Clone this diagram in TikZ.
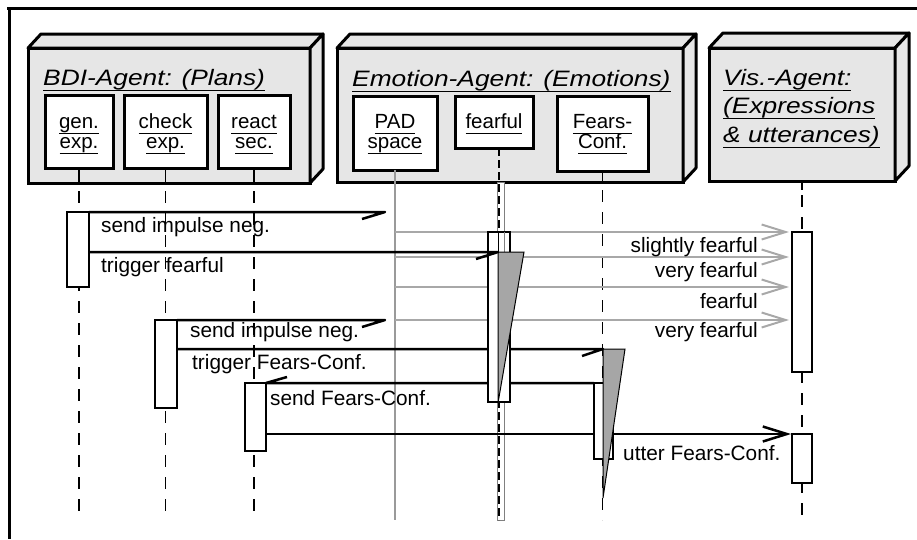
\documentclass[tikz,border=0pt]{standalone}
\usepackage{fontspec}
\setmainfont{Liberation Sans}
\newfontfamily\headfont[FakeStretch=1.18]{Liberation Sans}
\usetikzlibrary{arrows.meta,calc}
\definecolor{agentgrey}{HTML}{E6E6E6}
\definecolor{msggrey}{HTML}{A8A8A8}
\definecolor{trigrey}{HTML}{A6A6A6}
\definecolor{lifegrey}{HTML}{9A9A9A}
\newcommand\uln[1]{\setbox0=\hbox{#1}\rlap{\rule[-5.8pt]{\wd0}{1.3pt}}\box0}
\begin{document}
\begin{tikzpicture}[x=1pt,y=-1pt,
  agentbox/.style={draw, line width=3pt, fill=agentgrey, rectangle, inner sep=0pt, outer sep=0pt},
  agentface/.style={draw, line width=3pt, fill=agentgrey, line join=round},
  inbox/.style={draw, line width=3pt, fill=white, inner sep=0pt, outer sep=0pt},
  head/.style={font={\headfont\itshape\fontsize{22.3}{28}\selectfont}, inner sep=0pt, anchor=base west},
  boxtxt/.style={font={\fontsize{20.5}{21}\selectfont}, inner sep=0pt, anchor=base},
  lbl/.style={font={\fontsize{20.8}{24}\selectfont}, inner sep=0pt, anchor=base west},
  rlbl/.style={lbl, anchor=base east},
  life/.style={line width=1.5pt, dash pattern=on 12pt off 10pt},
  lifesolid/.style={line width=1.5pt},
  actbar/.style={draw, line width=2.5pt, fill=white, inner sep=0pt, outer sep=0pt},
  msg/.style={line width=2.5pt, line join=round},
  greymsg/.style={line width=2pt, draw=msggrey, -{Straight Barb[length=24pt,width=15pt]}},
  openmsg/.style={line width=2.5pt, -{Straight Barb[length=24pt,width=15pt]}},
  tri/.style={fill=trigrey, draw, line width=1pt},
]
\useasboundingbox (0,0) rectangle (917,539);
% frame
\draw[line width=3pt] (7,8.7) -- (917,8.7);
\draw[line width=3pt] (9.2,7) -- (9.2,539);

% agent boxes
\node[agentbox, minimum width=282pt, minimum height=135pt] (bdi) at (169,115.5) {};
\draw[agentface] (bdi.north west) -- ++(13,-14) -- ($(bdi.north east)+(13,-14)$) -- (bdi.north east) -- cycle;
\draw[agentface] (bdi.north east) -- ++(13,-14) -- ($(bdi.south east)+(13,-14)$) -- (bdi.south east) -- cycle;

\node[agentbox, minimum width=346pt, minimum height=134pt] (emo) at (510,115) {};
\draw[agentface] (emo.north west) -- ++(13,-14) -- ($(emo.north east)+(13,-14)$) -- (emo.north east) -- cycle;
\draw[agentface] (emo.north east) -- ++(13,-14) -- ($(emo.south east)+(13,-14)$) -- (emo.south east) -- cycle;

\node[agentbox, minimum width=186pt, minimum height=133pt] (vis) at (802,114.5) {};
\draw[agentface] (vis.north west) -- ++(14,-15) -- ($(vis.north east)+(14,-15)$) -- (vis.north east) -- cycle;
\draw[agentface] (vis.north east) -- ++(14,-15) -- ($(vis.south east)+(14,-15)$) -- (vis.south east) -- cycle;

% headings
\node[head] (hbdi) at (43,85) {\uln{BDI-Agent: (Plans)}};
\node[head] (hemo) at (352,86) {\uln{Emotion-Agent: (Emotions)}};
\node[head] (hvis1) at (723,85) {\uln{Vis.-Agent:}};
\node[head] (hvis2) at (723,113) {\uln{(Expressions}};
\node[head] (hvis3) at (723,142) {\uln{\& utterances)}};

% inner boxes
\node[inbox, minimum width=68pt, minimum height=73pt] (gen) at (79,131.5) {};
\node[inbox, minimum width=83pt, minimum height=73pt] (check) at (165.5,131.5) {};
\node[inbox, minimum width=72pt, minimum height=73pt] (react) at (254,131.5) {};
\node[inbox, minimum width=84pt, minimum height=74pt] (pad) at (395,133) {};
\node[inbox, minimum width=78pt, minimum height=52pt] (fear) at (494,122) {};
\node[inbox, minimum width=91pt, minimum height=75pt] (fconf) at (602.5,133.5) {};

\node[boxtxt] (tgen1) at (79,128) {\uln{gen.}};
\node[boxtxt] (tgen2) at (79,148) {\uln{exp.}};
\node[boxtxt] (tchk1) at (165.5,128) {\uln{check}};
\node[boxtxt] (tchk2) at (165.5,148) {\uln{exp.}};
\node[boxtxt] (trea1) at (254,128) {\uln{react}};
\node[boxtxt] (trea2) at (254,148) {\uln{sec.}};
\node[boxtxt] (tpad1) at (395,128) {\uln{PAD}};
\node[boxtxt] (tpad2) at (395,148) {\uln{space}};
\node[boxtxt] (tfear) at (494,128) {\uln{fearful}};
\node[boxtxt] (tfc1) at (602.5,128) {\uln{Fears-}};
\node[boxtxt] (tfc2) at (602.5,148) {\uln{Conf.}};

% lifelines
\coordinate (bot) at (0,520);
\coordinate (visbot) at (0,516);
\draw[lifesolid] (gen.south) -- (gen.south |- bdi.south);
\draw[life] ($(gen.south |- bdi.south)+(0,8)$) -- (gen.south |- bot);
\draw[lifesolid] (check.south) -- (check.south |- bdi.south);
\draw[life] ($(check.south |- bdi.south)+(0,8)$) -- (check.south |- bot);
\draw[lifesolid] (react.south) -- (react.south |- bdi.south);
\draw[life] ($(react.south |- bdi.south)+(0,8)$) -- (react.south |- bot);
\draw[lifesolid, draw=lifegrey] (pad.south) -- (pad.south |- bot);
\draw[line width=0.8pt, draw=gray, fill=white] ($(fear.south |- emo.south)+(3.5,0)$) rectangle ($(fear.south |- bot)+(10,0)$);
\draw[line width=1.2pt, dash pattern=on 8pt off 4pt] ($(fear.south)+(5,0)$) -- ($(fear.south |- bot)+(5,0)$);
\draw[lifesolid] (fconf.south) -- (fconf.south |- emo.south);
\draw[life] ($(fconf.south |- emo.south)+(0,8)$) -- (fconf.south |- bot);
\draw[lifesolid] (vis.south) -- ++(0,9);
\draw[life] ($(vis.south)+(0,14)$) -- (vis.south |- visbot);

% activation bars (positions only)
\coordinate (y232) at (0,232);
\coordinate (y257) at (0,257);
\coordinate (y287) at (0,287);
\coordinate (y320) at (0,320);
\coordinate (y349) at (0,349);
\coordinate (y434) at (0,434);
\coordinate (y252) at (0,252);

% grey messages from PAD space to Vis.-Agent
\node[actbar, draw=none, fill=none, minimum width=20pt, minimum height=140pt] (visact1pos) at (802,302) {};
\draw[greymsg] (pad.south |- y232) -- ($(visact1pos.west |- y232)+(-3,0)$);
\draw[greymsg] (pad.south |- y257) -- ($(visact1pos.west |- y257)+(-3,0)$);
\draw[greymsg] (pad.south |- y287) -- ($(visact1pos.west |- y287)+(-3,0)$);
\draw[greymsg] (pad.south |- y320) -- ($(visact1pos.west |- y320)+(-3,0)$);

% bars
\node[actbar, minimum width=22pt, minimum height=75pt] (genact) at (78,249.5) {};
\node[actbar, minimum width=22pt, minimum height=88pt] (checkact) at (166,364) {};
\node[actbar, minimum width=21pt, minimum height=68pt] (reactact) at (255.5,417) {};

% black messages under bars
\coordinate (m1tip) at (385,212);
\draw[msg] (genact.north east) -- (m1tip) -- ++(-23,7);
\coordinate (m3tip) at (385,320);
\draw[msg] (checkact.north east) -- (m3tip) -- ++(-23,7);
\coordinate (m4tip) at (603,349);
\draw[msg] (checkact.east |- y349) -- (m4tip) -- ++(-21,7);
\node[actbar, minimum width=19pt, minimum height=76pt] (fconfact) at (603.5,421) {};
\draw[msg] (fconfact.north west) -- (reactact.north east) -- ++(21,-6);
\node[actbar, minimum width=20pt, minimum height=49pt] (visact2) at (802,458.5) {};
\draw[openmsg] (reactact.east |- y434) -- ($(visact2.north west)+(-1,0)$);
\node[actbar, minimum width=20pt, minimum height=140pt] (visact1) at (802,302) {};
\node[actbar, minimum width=22pt, minimum height=170pt] (fearact) at (499,317) {};
\node[actbar, minimum width=19pt, minimum height=76pt] (fconfact2) at (603.5,421) {};
\draw[line width=1pt] (498,232) -- (498,252);
\draw[line width=1pt, draw=gray] (504,232) -- (504,252);

% triangles
\draw[tri] (498,252) -- (524,252) -- (498,403) -- cycle;
\draw[tri] (603,349) -- (625,349) -- (603,498) -- cycle;

% trigger fearful (over bar)
\coordinate (m2tip) at (498,252);
\draw[msg] (genact.east |- y252) -- (m2tip) -- ++(-22,7);

% labels
\node[lbl] (l1) at (101,232) {send impulse neg.};
\node[lbl] (l2) at (101,272) {trigger fearful};
\node[lbl] (l3) at (190,337) {send impulse neg.};
\node[lbl] (l4) at (192,369) {trigger Fears-Conf.};
\node[lbl] (l5) at (270,405) {send Fears-Conf.};
\node[lbl] (l6) at (623,460) {utter Fears-Conf.};
\node[rlbl] (r1) at (758,252) {slightly fearful};
\node[rlbl] (r2) at (758,277) {very fearful};
\node[rlbl] (r3) at (758,308) {fearful};
\node[rlbl] (r4) at (758,337) {very fearful};
\end{tikzpicture}
\end{document}
